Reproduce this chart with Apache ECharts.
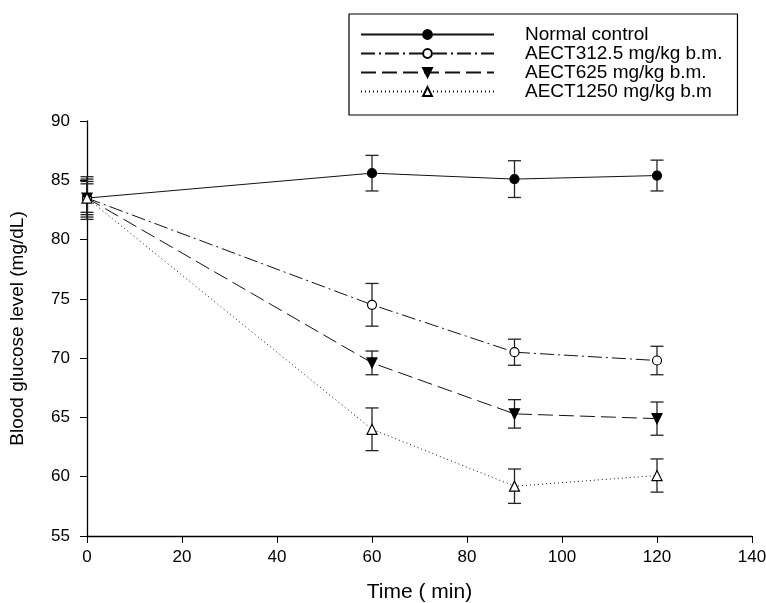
<!DOCTYPE html>
<html>
<head>
<meta charset="utf-8">
<script src="https://cdn.jsdelivr.net/npm/echarts@6/dist/echarts.min.js"></script>
<style>
  html, body { margin: 0; padding: 0; background: #fff; }
  #chart { width: 766px; height: 603px; }
</style>
</head>
<body>
<div id="chart"></div>
<script>
var times = [0, 60, 90, 120];
var names = ['Normal control', 'AECT312.5 mg/kg b.m.', 'AECT625 mg/kg b.m.', 'AECT1250 mg/kg b.m'];

var normalMean = [83.5, 85.6, 85.1, 85.4];
var normalErr  = [1.8, 1.5, 1.55, 1.3];
var low_Mean   = [83.5, 74.5, 70.5, 69.8];
var low_Err    = [1.6, 1.8, 1.1, 1.2];
var midMean    = [83.5, 69.6, 65.3, 64.9];
var midErr     = [1.4, 1.0, 1.2, 1.4];
var highMean   = [83.5, 64.0, 59.2, 60.1];
var highErr    = [1.2, 1.8, 1.45, 1.4];

var means = [normalMean, low_Mean, midMean, highMean];
var errs = [normalErr, low_Err, midErr, highErr];

var font = 'Liberation Sans, Arial, sans-serif';

// marker looks for each group
var looks = [
  { symbol: 'circle', size: 9, fill: '#000', dash: 'solid', rotate: 0 },
  { symbol: 'circle', size: 9, fill: '#fff', dash: [14, 4, 2, 4], rotate: 0 },
  { symbol: 'triangle', size: 10, fill: '#000', dash: [15, 6], rotate: 180 },
  { symbol: 'triangle', size: 10, fill: '#fff', dash: [1, 3], rotate: 0 }
];

var series = [];

// error bars first so markers sit on top
means.forEach(function (m, k) {
  var rows = times.map(function (t, i) { return [t, m[i] - errs[k][i], m[i] + errs[k][i]]; });
  series.push({
    type: 'custom',
    name: 'err' + k,
    data: rows,
    z: 1,
    silent: true,
    renderItem: function (params, api) {
      var lo = api.coord([api.value(0), api.value(1)]);
      var hi = api.coord([api.value(0), api.value(2)]);
      var w = 6.5;
      var st = { stroke: '#222', lineWidth: 1.3 };
      return {
        type: 'group',
        children: [
          { type: 'line', shape: { x1: lo[0], y1: lo[1], x2: hi[0], y2: hi[1] }, style: st },
          { type: 'line', shape: { x1: lo[0] - w, y1: lo[1], x2: lo[0] + w, y2: lo[1] }, style: st },
          { type: 'line', shape: { x1: hi[0] - w, y1: hi[1], x2: hi[0] + w, y2: hi[1] }, style: st }
        ]
      };
    }
  });
});

means.forEach(function (m, k) {
  var lk = looks[k];
  series.push({
    type: 'line',
    name: names[k],
    data: times.map(function (t, i) { return [t, m[i]]; }),
    z: 3,
    symbol: lk.symbol,
    symbolSize: lk.size,
    symbolRotate: lk.rotate,
    showAllSymbol: true,
    lineStyle: { color: '#111', width: 1, type: lk.dash },
    itemStyle: { color: lk.fill, borderColor: '#000', borderWidth: 1.2 },
    emphasis: { disabled: true },
    animation: false
  });
});

var chart = echarts.init(document.getElementById('chart'));
chart.setOption({
  animation: false,
  textStyle: { fontFamily: font, color: '#000' },
  grid: { left: 87, right: 14, top: 121, bottom: 67, containLabel: false, outerBoundsMode: 'none' },
  legend: {
    data: names,
    orient: 'vertical',
    left: 349,
    top: 14,
    itemWidth: 133,
    itemHeight: 11,
    itemGap: 0,
    padding: [11, 15, 14, 11],
    borderColor: '#000',
    borderWidth: 1.2,
    textStyle: { fontSize: 19, lineHeight: 19, color: '#000', fontFamily: font, padding: [0, 0, 0, 26] }
  },
  xAxis: {
    type: 'value',
    min: 0,
    max: 140,
    interval: 20,
    name: 'Time ( min)',
    nameLocation: 'middle',
    nameGap: 46,
    nameTextStyle: { fontSize: 21, color: '#000' },
    axisLine: { lineStyle: { color: '#000', width: 1.3 } },
    axisTick: { inside: false, length: 7, lineStyle: { color: '#000' } },
    axisLabel: { fontSize: 17, color: '#000', margin: 13 },
    splitLine: { show: false }
  },
  yAxis: {
    type: 'value',
    min: 55,
    max: 90,
    interval: 5,
    name: 'Blood glucose level (mg/dL)',
    nameLocation: 'middle',
    nameGap: 60,
    nameRotate: 90,
    nameTextStyle: { fontSize: 19, color: '#000' },
    axisLine: { show: true, lineStyle: { color: '#000', width: 1.3 } },
    axisTick: { show: true, inside: false, length: 7, lineStyle: { color: '#000' } },
    axisLabel: { fontSize: 17, color: '#000', margin: 17 },
    splitLine: { show: false }
  },
  series: series
});
</script>
</body>
</html>
